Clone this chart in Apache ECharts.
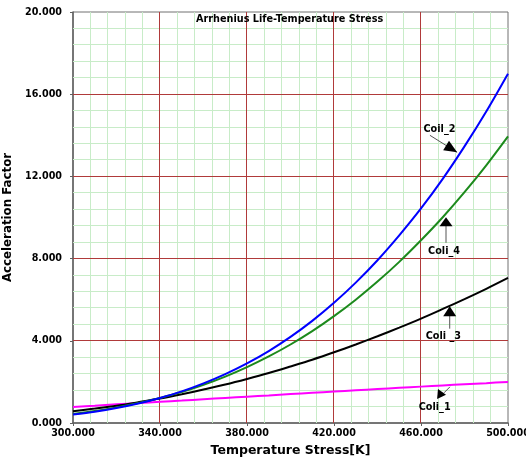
<!DOCTYPE html>
<html>
<head>
<meta charset="utf-8">
<script src="https://cdn.jsdelivr.net/npm/echarts@6/dist/echarts.min.js"></script>
<style>
html,body{margin:0;padding:0;background:#fff;}
#chart{width:526px;height:460px;}
</style>
</head>
<body>
<div id="chart"></div>
<script>
// ---- data ----
const temps = [300,310,320,330,340,350,360,370,380,390,400,410,420,430,440,450,460,470,480,490,500];
const coil2 = [0.41,0.55,0.73,0.95,1.22,1.54,1.93,2.38,2.90,3.50,4.19,4.97,5.85,6.83,7.92,9.13,10.44,11.88,13.46,15.16,17.00];
const coil4 = [0.44,0.58,0.76,0.97,1.22,1.51,1.86,2.26,2.72,3.24,3.82,4.47,5.20,6.00,6.88,7.84,8.89,10.01,11.23,12.54,13.95];
const coil3 = [0.57,0.70,0.84,1.01,1.19,1.40,1.63,1.87,2.14,2.43,2.75,3.08,3.44,3.82,4.22,4.64,5.08,5.55,6.03,6.53,7.06];
const coil1 = [0.78,0.84,0.91,0.97,1.03,1.09,1.16,1.22,1.28,1.34,1.41,1.47,1.53,1.59,1.65,1.71,1.77,1.83,1.89,1.94,2.00];
const xTicks = [300,340,380,420,460,500];
const yTicks = [0,4,8,12,16,20];
const titleText = 'Arrhenius Life-Temperature Stress';
const xName = 'Temperature Stress[K]';
const yName = 'Acceleration Factor';
// annotation anchors in data units: label, line (x1,y1,x2,y2), arrow tip, text centre
const annLabels = ['Coil_2','Coli_4','Coli _3','Coli_1'];
const annLines = [[464.1,14.0,476.6,13.17],[471.5,8.77,471.5,9.6],[473.2,4.59,473.2,5.3],[473.3,1.76,470.6,1.47]];
const annTips = [[476.6,13.17],[471.5,10.01],[473.2,5.68],[471.5,1.37]];
const annText = [[468.5,14.28],[470.6,8.36],[470.3,4.23],[466.3,0.74]];

const FONT = 'DejaVu Sans';
// arrowhead geometry (screen px): angle deg, length, half-width
const heads = [[32,13,5.5],[-90,9,6.5],[-90,10,6.5],[5,8.5,5]];
const X_MIN=300, X_MAX=500, X_MAJ=40, Y_MIN=0, Y_MAX=20, Y_MAJ=4, MINOR=5;

const chart = echarts.init(document.getElementById('chart'), null, {renderer:'canvas'});
function mk(vals){ return temps.map((t,i)=>[t, vals[i]]); }
const crisp = v => Math.round(v-0.5)+0.5;

const option = {
  backgroundColor:'#ffffff',
  animation:false,
  title:{text:titleText,left:196,top:14,padding:0,
    textStyle:{fontFamily:FONT,fontSize:9.7,fontWeight:'bold',color:'#000'}},
  grid:{left:73,right:18,top:12,bottom:37,containLabel:false,outerBoundsMode:'none',
    show:true,borderColor:'#707070',borderWidth:1,backgroundColor:'#fff'},
  xAxis:{type:'value',min:X_MIN,max:X_MAX,interval:X_MAJ,
    name:xName,nameLocation:'middle',nameGap:21,
    nameTextStyle:{fontFamily:FONT,fontSize:12.5,fontWeight:'bold',color:'#000'},
    axisLine:{show:true,onZero:false,lineStyle:{color:'#606060',width:1.5}},
    axisTick:{show:true,length:3,lineStyle:{color:'#606060'}},
    axisLabel:{margin:5,fontFamily:FONT,fontSize:9.6,fontWeight:'bold',color:'#000',
      formatter:v=>xTicks.includes(v)?v.toFixed(3):''},
    splitLine:{show:false}
  },
  yAxis:{type:'value',min:Y_MIN,max:Y_MAX,interval:Y_MAJ,
    name:yName,nameLocation:'middle',nameGap:45,nameRotate:90,
    nameTextStyle:{fontFamily:FONT,fontSize:11.8,fontWeight:'bold',color:'#000'},
    axisLine:{show:true,onZero:false,lineStyle:{color:'#606060',width:1.5}},
    axisTick:{show:true,length:3,lineStyle:{color:'#606060'}},
    axisLabel:{margin:11,fontFamily:FONT,fontSize:9.6,fontWeight:'bold',color:'#000',
      formatter:v=>yTicks.includes(v)?v.toFixed(3):''},
    splitLine:{show:false}
  },
  series:[
    {type:'custom',z:1,silent:true,clip:false,data:[[X_MIN,Y_MIN]],
      renderItem:function(params,api){
        const minorL=[], majorL=[];
        const p0=api.coord([X_MIN,Y_MIN]), p1=api.coord([X_MAX,Y_MAX]);
        const nx=(X_MAX-X_MIN)/X_MAJ*MINOR, ny=(Y_MAX-Y_MIN)/Y_MAJ*MINOR;
        for(let k=1;k<nx;k++){
          const x=crisp(api.coord([X_MIN+k*X_MAJ/MINOR,Y_MIN])[0]);
          const el={type:'line',shape:{x1:x,y1:p0[1],x2:x,y2:p1[1]},style:{lineWidth:1}};
          (k%MINOR===0?majorL:minorL).push(el);
        }
        for(let k=1;k<ny;k++){
          const y=crisp(api.coord([X_MIN,Y_MIN+k*Y_MAJ/MINOR])[1]);
          const el={type:'line',shape:{x1:p0[0],y1:y,x2:p1[0],y2:y},style:{lineWidth:1}};
          (k%MINOR===0?majorL:minorL).push(el);
        }
        minorL.forEach(e=>e.style.stroke='#c8ecc8');
        majorL.forEach(e=>e.style.stroke='#b03a3a');
        return {type:'group',children:minorL.concat(majorL)};
      }},
    {name:'Coli_1',type:'line',data:mk(coil1),smooth:0.3,showSymbol:false,lineStyle:{color:'#ff00ff',width:2},z:3},
    {name:'Coli _3',type:'line',data:mk(coil3),smooth:0.3,showSymbol:false,lineStyle:{color:'#000000',width:2},z:3},
    {name:'Coli_4',type:'line',data:mk(coil4),smooth:0.3,showSymbol:false,lineStyle:{color:'#1c8a1c',width:2},z:3},
    {name:'Coil_2',type:'line',data:mk(coil2),smooth:0.3,showSymbol:false,lineStyle:{color:'#0000ff',width:2},z:3},
    {type:'custom',clip:false,z:5,silent:true,
      data:annTips.map(p=>[p[0],p[1]]),
      renderItem:function(params,api){
        const i = params.dataIndex;
        const l = annLines[i];
        const a = api.coord([l[0],l[1]]), b = api.coord([l[2],l[3]]);
        const tip = api.coord(annTips[i]);
        const tc = api.coord(annText[i]);
        const h = heads[i];
        const th = h[0]*Math.PI/180, L=h[1], W=h[2];
        const cx = tip[0]-L*Math.cos(th), cy = tip[1]-L*Math.sin(th);
        const px = -Math.sin(th), py = Math.cos(th);
        return {type:'group',children:[
          {type:'line',shape:{x1:a[0],y1:a[1],x2:b[0],y2:b[1]},style:{stroke:'#555',lineWidth:1}},
          {type:'polygon',shape:{points:[[tip[0],tip[1]],[cx+W*px,cy+W*py],[cx-W*px,cy-W*py]]},style:{fill:'#000'}},
          {type:'text',x:tc[0],y:tc[1],style:{text:annLabels[i],fill:'#000',font:'bold 9.7px "DejaVu Sans"',align:'center',verticalAlign:'middle'}}
        ]};
      }
    }
  ]
};
chart.setOption(option);
</script>
</body>
</html>
